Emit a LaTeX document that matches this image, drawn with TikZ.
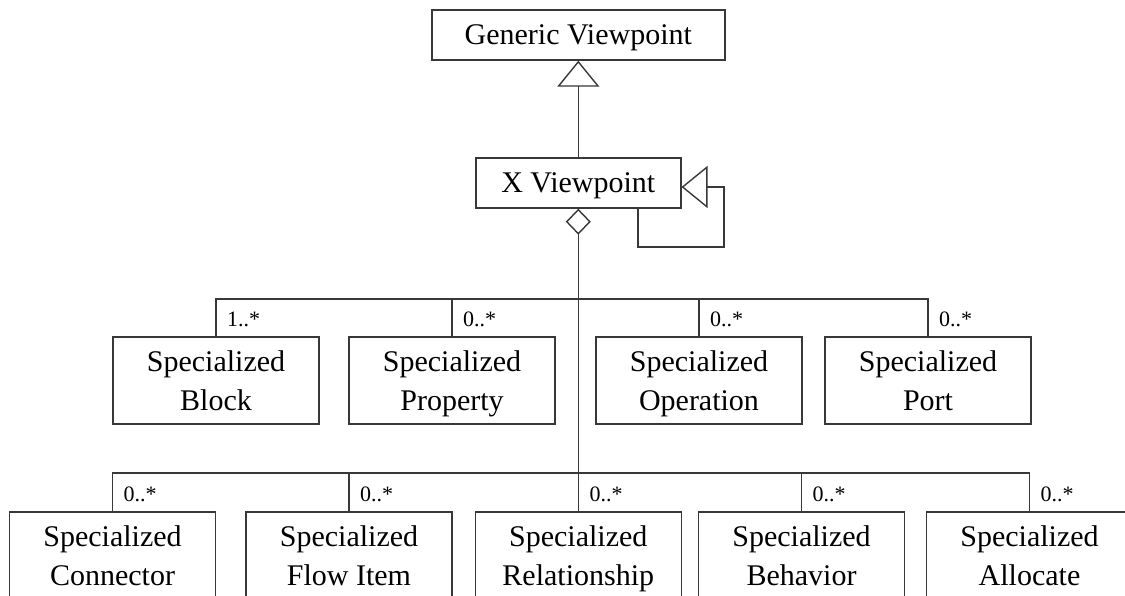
\documentclass[tikz,border=0pt]{standalone}
\usepackage{fontspec}
\setmainfont{Liberation Serif}
\usetikzlibrary{arrows.meta}
\definecolor{umlgray}{gray}{0.22}
\begin{document}
\begin{tikzpicture}[x=1pt,y=-1pt,
    link/.style={draw=umlgray, line width=1.4pt},
    genarrow/.style={link, -{Triangle[open, length=26pt, width=42pt]}},
    aggarrow/.style={link, {Diamond[open, length=26pt, width=25pt]}-},
    vpbox/.style={draw=umlgray, line width=1.4pt, minimum height=50pt, text depth=0pt,
        font=\fontsize{30}{38.5}\selectfont},
    classbox/.style={draw=umlgray, line width=1.4pt, minimum width=206pt, minimum height=87pt,
        align=center, text depth=0pt, font=\fontsize{30}{38.5}\selectfont},
    mult/.style={anchor=base west, inner sep=0pt, font=\fontsize{22}{26}\selectfont}]
    \useasboundingbox (0,0) rectangle (1125,596);
    \clip (0,0) rectangle (1125,596);

    % Viewpoints
    \node[vpbox, minimum width=293pt] (gen) at (578.3,35) {Generic Viewpoint};
    \node[vpbox, minimum width=205pt] (xv) at (578.3,183) {X Viewpoint};
    \draw[genarrow] (xv.north) -- (gen.south);

    % Self generalization
    \coordinate (loopa) at (638,247);
    \coordinate (loopb) at (724,247);
    \draw[genarrow] (xv.south -| loopa) -- (loopa) -- (loopb) |- ([yshift=-4pt]xv.east);

    % First row
    \coordinate (busa) at (578,299);
    \foreach \nm/\cx/\txt/\m in {blk/216/Block/1..*, prop/452/Property/0..*,
            oper/699/Operation/0..*, port/928/Port/0..*} {
        \node[classbox] (\nm) at (\cx,380.5) {Specialized\\\txt};
        \node[mult] (m\nm) at ([xshift=11pt,yshift=10pt]\nm.north) {\m};
    }

    % Second row
    \coordinate (busb) at (578,473);
    \foreach \nm/\cx/\txt in {conn/112.5/Connector, flow/349/Flow Item,
            rel/578.3/Relationship, beh/801.5/Behavior, allo/1029.5/Allocate} {
        \node[classbox] (\nm) at (\cx,555.5) {Specialized\\\txt};
        \node[mult] (m\nm) at ([xshift=11pt,yshift=10pt]\nm.north) {0..*};
    }

    % Composition
    \draw[aggarrow] (xv.south) -- (rel.north);
    \draw[link] (blk.north) -- (blk.north |- busa) -- (port.north |- busa) -- (port.north);
    \foreach \nm in {prop,oper}
        \draw[link] (\nm.north) -- (\nm.north |- busa);
    \draw[link] (conn.north) -- (conn.north |- busb) -- (allo.north |- busb) -- (allo.north);
    \foreach \nm in {flow,beh}
        \draw[link] (\nm.north) -- (\nm.north |- busb);
\end{tikzpicture}
\end{document}
